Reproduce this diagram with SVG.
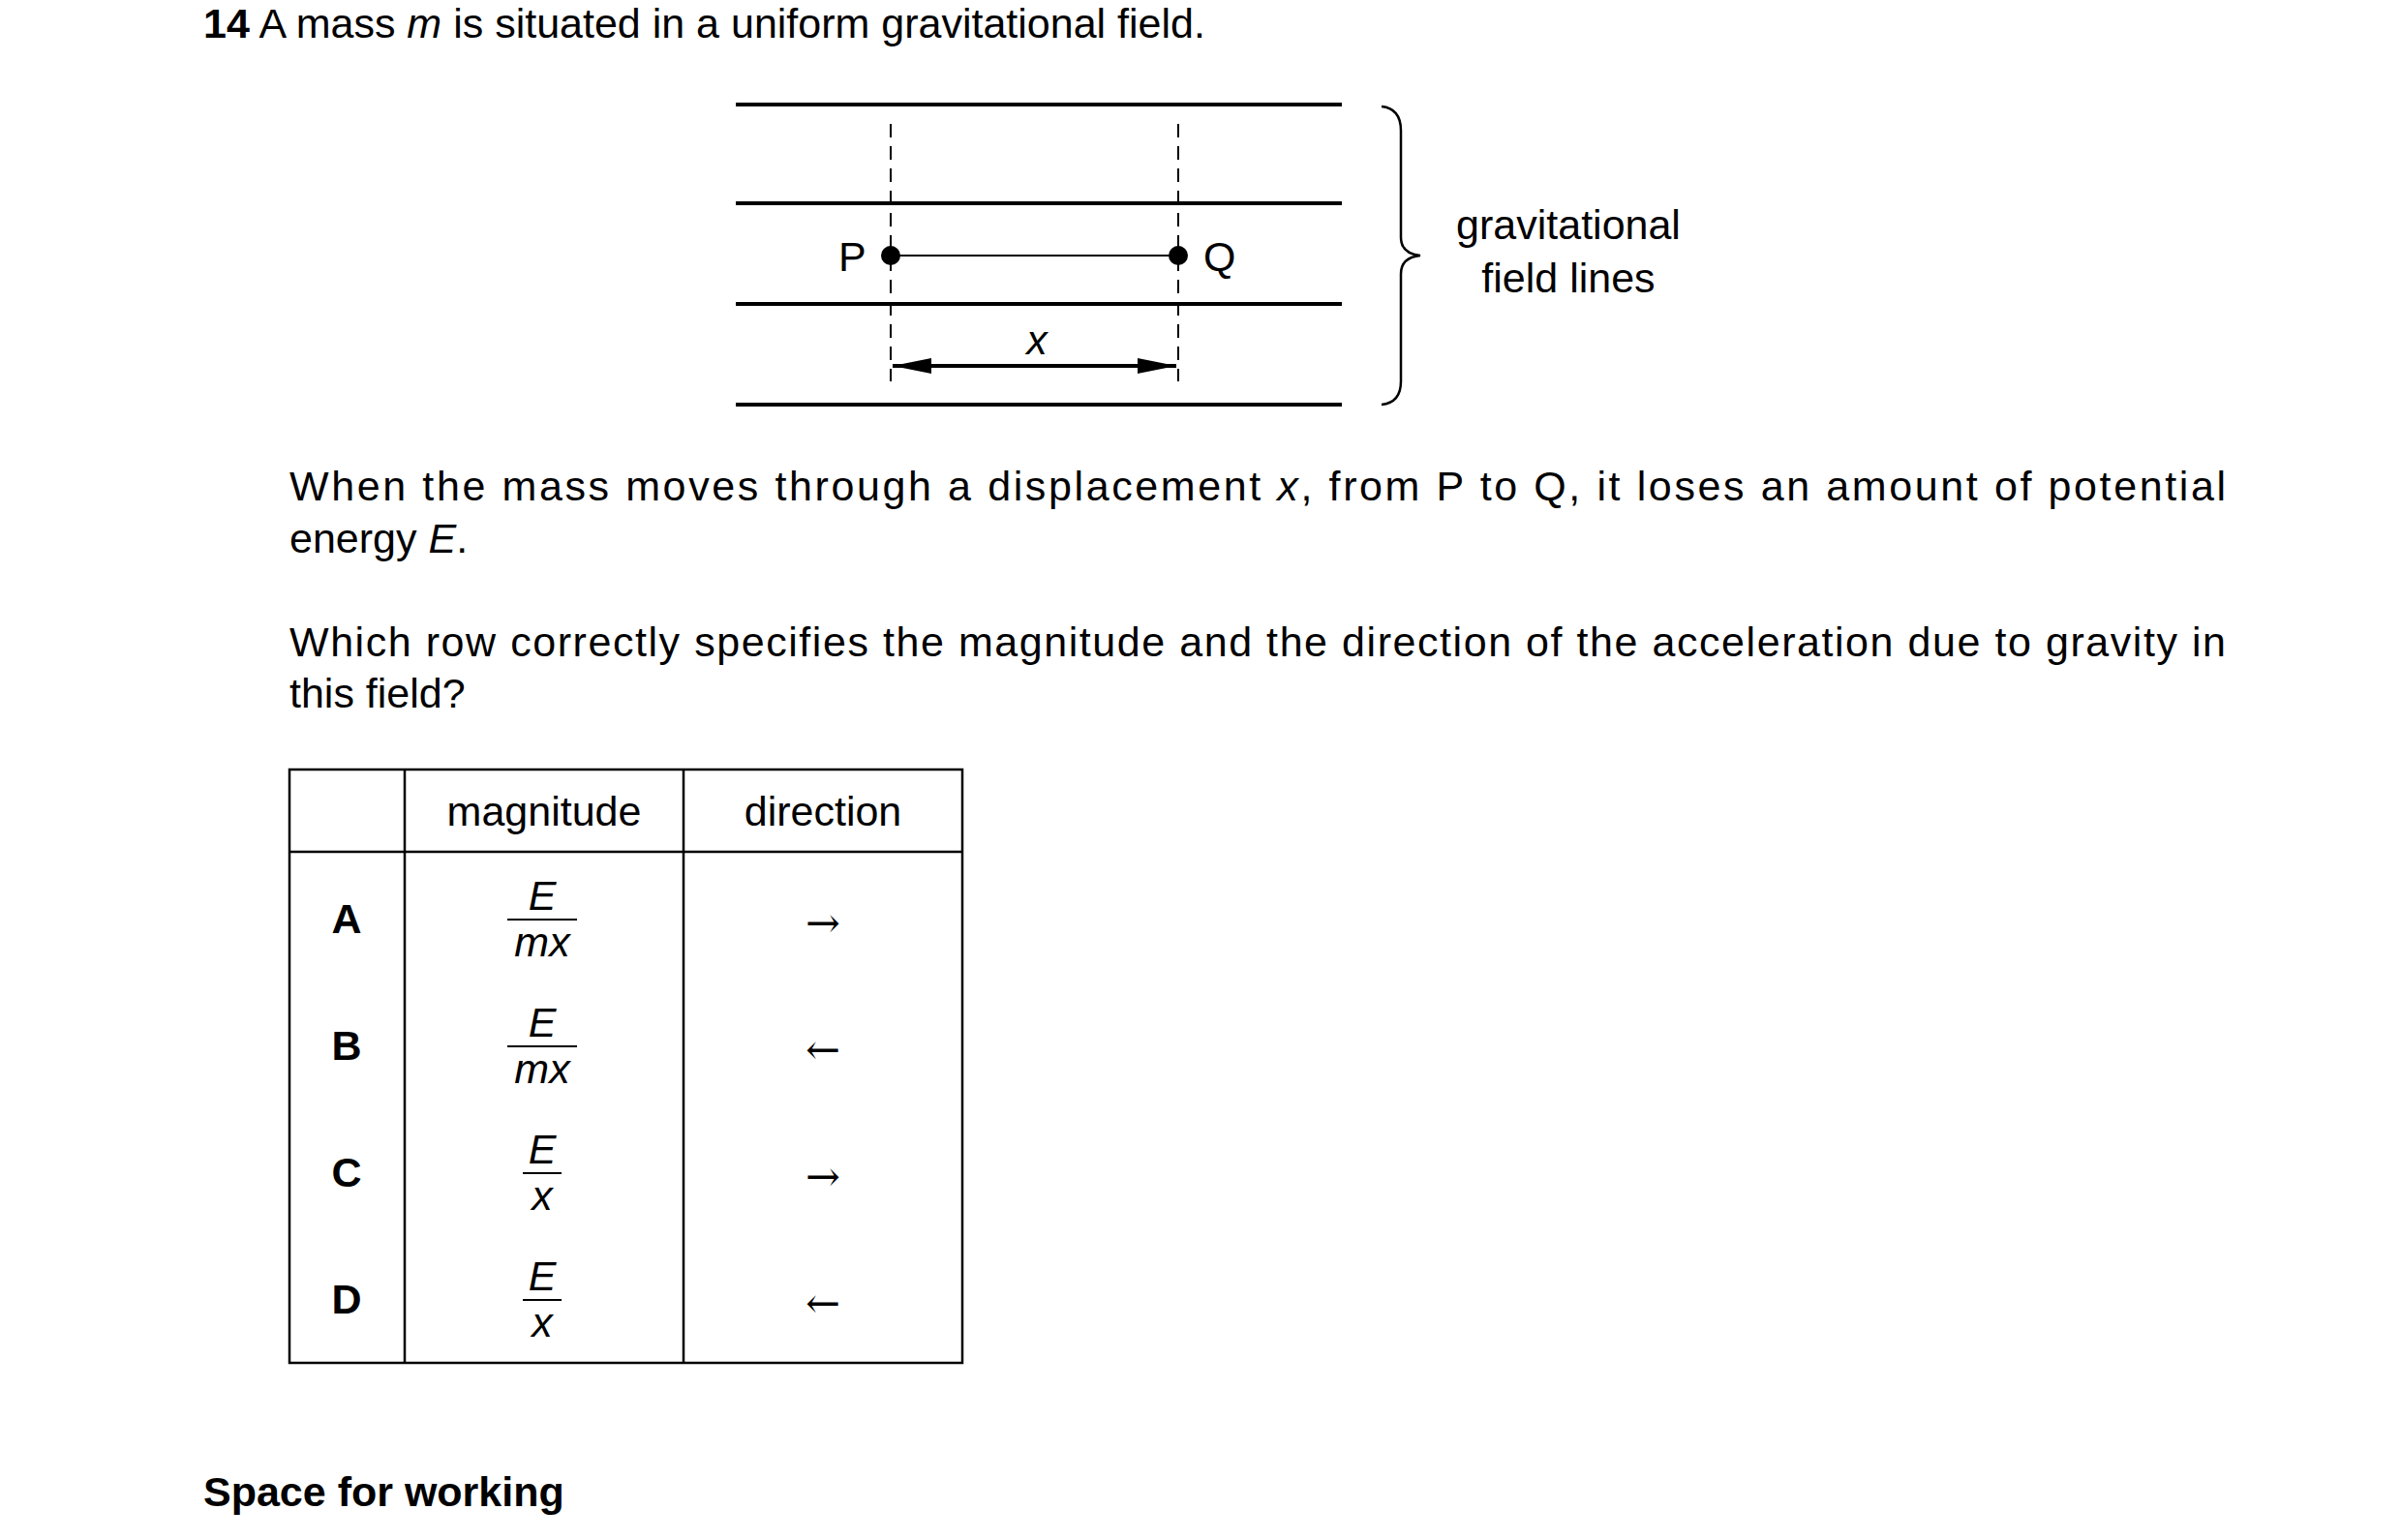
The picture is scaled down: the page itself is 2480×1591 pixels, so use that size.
<svg xmlns="http://www.w3.org/2000/svg" width="2480" height="1591" viewBox="0 0 2480 1591">
<style>
text{font-family:"Liberation Sans",Arial,sans-serif;font-size:43px;fill:#000}
.b{font-weight:bold}.i{font-style:italic}.m{text-anchor:middle}
.fl{stroke:#000;stroke-width:4}
.d{stroke:#000;stroke-width:2;stroke-dasharray:14,9}
.t{stroke:#000;stroke-width:2.5;fill:none}
</style>
<defs><marker id="ah" viewBox="0 0 10 10" refX="10" refY="5" markerWidth="40" markerHeight="16" markerUnits="userSpaceOnUse" orient="auto-start-reverse" preserveAspectRatio="none"><path d="M0,0L10,5L0,10z"/></marker></defs>
<text x="210" y="39"><tspan class="b">14</tspan>   A mass <tspan class="i">m</tspan> is situated in a uniform gravitational field.</text>
<g id="field">
<line class="fl" x1="760" y1="108" x2="1386" y2="108"/>
<line class="fl" x1="760" y1="210" x2="1386" y2="210"/>
<line class="fl" x1="760" y1="314" x2="1386" y2="314"/>
<line class="fl" x1="760" y1="418" x2="1386" y2="418"/>
<path class="t" d="M1427,110 Q1447,112 1447,135 L1447,245 Q1447,262 1467,264 Q1447,266 1447,283 L1447,394 Q1447,416 1427,418"/>
<text class="m" x="1620" y="247">gravitational</text>
<text class="m" x="1620" y="302">field lines</text>
</g>
<g id="P"><circle cx="920" cy="264" r="10"/><text x="866" y="280">P</text></g>
<g id="Q"><circle cx="1217" cy="264" r="10"/><text x="1243" y="280">Q</text></g>
<g id="connectors">
<line class="d" x1="920" y1="128" x2="920" y2="394"/>
<line class="d" x1="1217" y1="128" x2="1217" y2="394"/>
<line x1="920" y1="264" x2="1217" y2="264" stroke="#000" stroke-width="2"/>
<line x1="922" y1="378" x2="1215" y2="378" stroke="#000" stroke-width="4" marker-start="url(#ah)" marker-end="url(#ah)"/>
</g>
<text class="i m" x="1071" y="366">x</text>
<text x="299" y="517" textLength="2000" lengthAdjust="spacing">When the mass moves through a displacement <tspan class="i">x</tspan>, from P to Q, it loses an amount of potential</text>
<text x="299" y="571">energy <tspan class="i">E</tspan>.</text>
<text x="299" y="678" textLength="2000" lengthAdjust="spacing">Which row correctly specifies the magnitude and the direction of the acceleration due to gravity in</text>
<text x="299" y="731">this field?</text>
<g id="table">
<rect class="t" x="299" y="795" width="695" height="613"/>
<line class="t" x1="299" y1="880" x2="994" y2="880"/>
<line class="t" x1="418" y1="795" x2="418" y2="1408"/>
<line class="t" x1="706" y1="795" x2="706" y2="1408"/>
<text class="m" x="562" y="853">magnitude</text>
<text class="m" x="850" y="853">direction</text>
<g text-anchor="middle">
<text class="b m" x="358" y="964">A</text>
<text class="b m" x="358" y="1095">B</text>
<text class="b m" x="358" y="1226">C</text>
<text class="b m" x="358" y="1357">D</text>
<text class="i m" x="560" y="940">E</text><line x1="524" y1="950" x2="596" y2="950" stroke="#000" stroke-width="2"/><text class="i m" x="560" y="988">mx</text>
<text class="i m" x="560" y="1071">E</text><line x1="524" y1="1081" x2="596" y2="1081" stroke="#000" stroke-width="2"/><text class="i m" x="560" y="1119">mx</text>
<text class="i m" x="560" y="1202">E</text><line x1="540" y1="1212" x2="580" y2="1212" stroke="#000" stroke-width="2"/><text class="i m" x="560" y="1250">x</text>
<text class="i m" x="560" y="1333">E</text><line x1="540" y1="1343" x2="580" y2="1343" stroke="#000" stroke-width="2"/><text class="i m" x="560" y="1381">x</text>
<text class="m" x="850" y="968" style="font-family:'DejaVu Serif',serif">→</text>
<text class="m" x="850" y="1099" style="font-family:'DejaVu Serif',serif">←</text>
<text class="m" x="850" y="1230" style="font-family:'DejaVu Serif',serif">→</text>
<text class="m" x="850" y="1361" style="font-family:'DejaVu Serif',serif">←</text>
</g>
</g>
<text class="b" x="210" y="1556">Space for working</text>
</svg>
